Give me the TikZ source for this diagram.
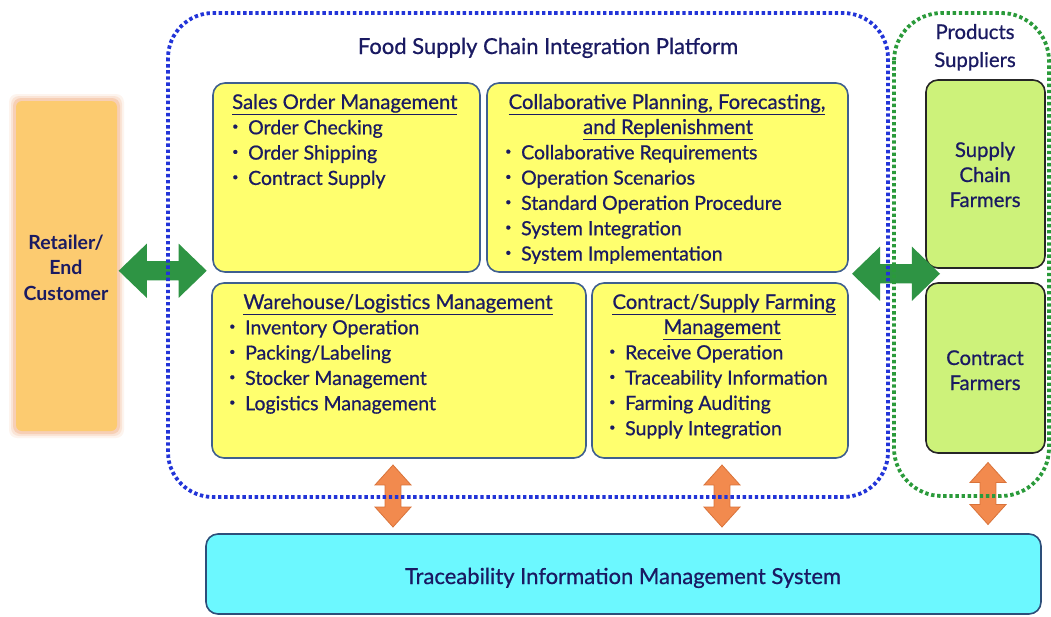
\documentclass[tikz,border=0pt]{standalone}
\usepackage{fontspec}
\setmainfont{Lato}
\newfontfamily\mf{Lato}[FakeBold=0.7]
\usetikzlibrary{shapes.arrows,calc}
\definecolor{navy}{HTML}{1A1A62}
\definecolor{yel}{HTML}{FFFF6E}
\definecolor{yelb}{HTML}{3F5F8F}
\definecolor{lgreen}{HTML}{CDF27A}
\definecolor{cyanf}{HTML}{6CF8FF}
\definecolor{cyanb}{HTML}{2D4F7A}
\definecolor{garrow}{HTML}{2E9444}
\definecolor{oarrow}{HTML}{F28A4E}
\definecolor{oarrowb}{HTML}{D9733A}
\definecolor{obox}{HTML}{FCCB70}
\definecolor{oboxb}{HTML}{F2A878}
\definecolor{dblue}{HTML}{2234D8}
\definecolor{dgreen}{HTML}{2A9A3A}
\tikzset{
  x=1pt, y=-1pt,
  txt/.style={text=navy, inner sep=0pt, anchor=base west, font=\mf\fontsize{19.5}{25}\selectfont},
  ctxt/.style={txt, anchor=base},
  htxt/.style={ctxt, font=\mf\fontsize{20.3}{25}\selectfont},
  big/.style={ctxt, font=\mf\fontsize{22}{25}\selectfont},
  btxt/.style={ctxt, font=\fontsize{19.5}{25}\selectfont\bfseries},
  ybox/.style={draw=yelb, fill=yel, line width=1.6pt, rounded corners=12pt, inner sep=0pt},
  gbox/.style={draw=black!85, fill=lgreen, line width=1.6pt, rounded corners=12pt, inner sep=0pt},
  cbox/.style={draw=cyanb, fill=cyanf, line width=1.6pt, rounded corners=12pt, inner sep=0pt},
  dotline/.style={line width=3.8pt, dash pattern=on 3.4pt off 2.7pt},
  garr/.style={double arrow, fill=garrow, draw=none, inner sep=9.5pt, minimum height=88pt,
     minimum width=54pt, double arrow head extend=17.5pt, double arrow tip angle=88},
  oarr/.style={double arrow, fill=oarrow, draw=oarrowb, line width=0.8pt, inner sep=7.5pt,
     minimum height=62pt, minimum width=36pt, double arrow head extend=10pt, double arrow tip angle=84, rotate=90},
}
\newcommand{\bul}{\raisebox{0.45ex}{\scalebox{0.55}{\textbullet}}\hspace{0.5em}}
\begin{document}
\begin{tikzpicture}
\useasboundingbox[fill=white] (0,0) rectangle (1051,616);
% orange retailer box with soft edge
\foreach \e/\o in {6/0.12,4/0.2,2/0.35}{
  \fill[oboxb, opacity=\o, rounded corners=8pt] (15-\e,100-\e) rectangle (118+\e,432+\e);
}
\node[fill=obox, rounded corners=6pt, minimum width=101pt, minimum height=330pt, inner sep=0pt] (ret) at (66.5,266) {};
\node[btxt] (ret1) at (66,249) {Retailer/};
\node[btxt] (ret2) at (66,274) {End};
\node[btxt] (ret3) at (66,300) {Customer};

\node[big] (plat) at (548,54) {Food Supply Chain Integration Platform};
\node[htxt] (ps1) at (975,39) {Products};
\node[htxt] (ps2) at (975,67) {Suppliers};

% yellow boxes
\node[ybox, minimum width=267pt, minimum height=189pt] (so) at (346.5,177.5) {};
\node[ybox, minimum width=361pt, minimum height=189pt] (cp) at (667.5,177.5) {};
\node[ybox, minimum width=374pt, minimum height=175pt] (wh) at (399,370.5) {};
\node[ybox, minimum width=256pt, minimum height=175pt] (cs) at (720,370.5) {};

% sales order
\node[txt, font=\mf\fontsize{20.3}{25}\selectfont] (soT) at (232,109) {\underline{Sales Order Management}};
\foreach \t [count=\i] in {Order Checking, Order Shipping, Contract Supply}
  \node[txt] (so\i) at (232,{109+25.3*\i}) {\bul\t};
% cpfr
\node[htxt] (cpT1) at (667,109) {\underline{Collaborative Planning, Forecasting,}};
\node[htxt] (cpT2) at (668,134) {\underline{and Replenishment}};
\foreach \t [count=\i] in {Collaborative Requirements, Operation Scenarios, Standard Operation Procedure, System Integration, System Implementation}
  \node[txt] (cp\i) at (505,{134+25.3*\i}) {\bul\t};
% warehouse
\node[htxt] (whT) at (398,309) {\underline{Warehouse/Logistics Management}};
\foreach \t [count=\i] in {Inventory Operation, Packing/Labeling, Stocker Management, Logistics Management}
  \node[txt] (wh\i) at (229,{309+25.3*\i}) {\bul\t};
% contract supply
\node[htxt] (csT1) at (724,309) {\underline{Contract/Supply Farming}};
\node[htxt] (csT2) at (722,334) {\underline{Management}};
\foreach \t [count=\i] in {Receive Operation, Traceability Information, Farming Auditing, Supply Integration}
  \node[txt] (cs\i) at (609,{334+25.3*\i}) {\bul\t};

% green supplier boxes
\node[gbox, minimum width=119pt, minimum height=188pt] (scf) at (985.5,174) {};
\node[gbox, minimum width=119pt, minimum height=170pt] (cf) at (985.5,368) {};
\node[htxt] (scf1) at (985,157) {Supply};
\node[htxt] (scf2) at (985,182) {Chain};
\node[htxt] (scf3) at (985,207) {Farmers};
\node[htxt] (cf1) at (985,365) {Contract};
\node[htxt] (cf2) at (985,390) {Farmers};

% traceability system
\node[cbox, minimum width=835pt, minimum height=80pt] (tims) at (623.5,574) {};
\node[big] (timsT) at (623,584) {Traceability Information Management System};

% green double arrows
\node[garr] (ga1) at ($(ret.east)!0.5!(so.west)+(-2,49)$) {};
\node[garr] (ga2) at ($(cp.east)!0.5!(scf.west)+(9,98)$) {};

% orange double arrows
\node[oarr] (oa1) at ($(wh.south -| 393,0)!0.5!(tims.north -| 393,0)$) {};
\node[oarr] (oa2) at ($(cs.south -| 722,0)!0.5!(tims.north -| 722,0)$) {};
\node[oarr] (oa3) at ($(cf.south -| 988,0)!0.5!(tims.north -| 988,0)$) {};

% dotted platform borders
\draw[dotline, dblue, rounded corners=45pt] (168,13) rectangle (888,497);
\draw[dotline, dgreen, rounded corners=48pt] (894,13) rectangle (1049,496);
\end{tikzpicture}
\end{document}
